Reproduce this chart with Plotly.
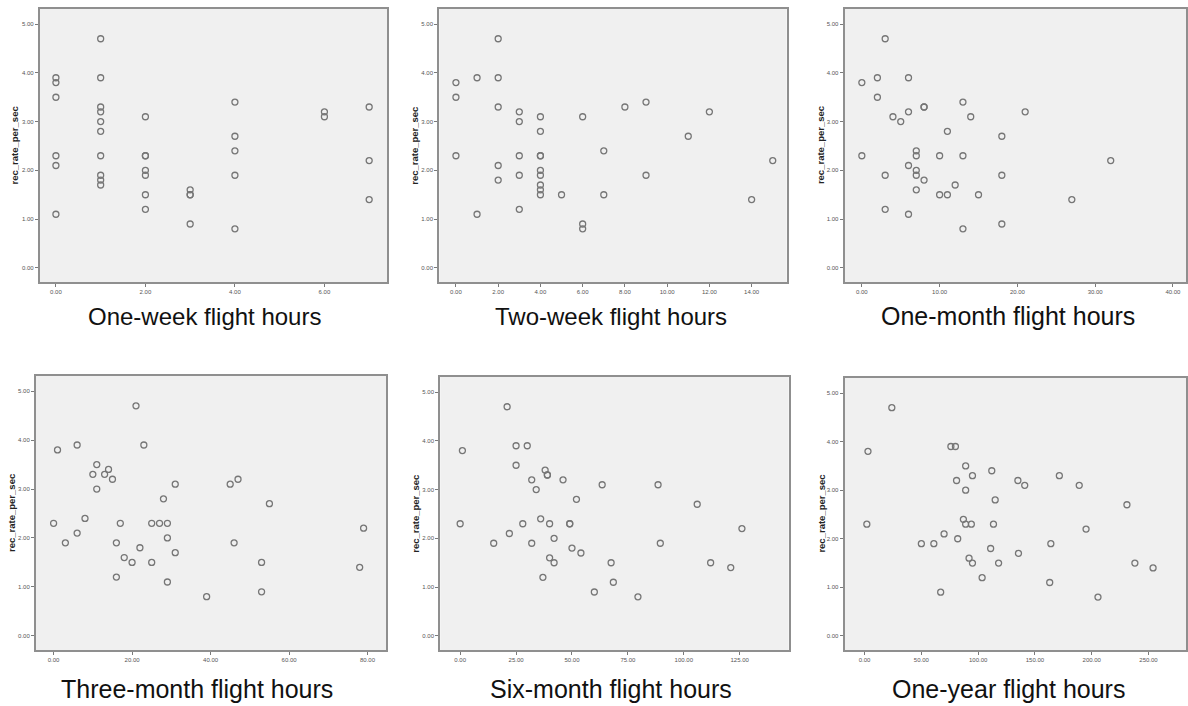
import plotly.graph_objects as go

# ---------------- data ----------------
week_hours = [0, 0, 0, 0, 0, 0,
              1, 1, 1, 1, 1, 1, 1, 1, 1, 1,
              2, 2, 2, 2, 2, 2, 2,
              3, 3, 3, 3,
              4, 4, 4, 4, 4,
              6, 6,
              7, 7, 7]
week_rate = [3.9, 3.8, 3.5, 2.3, 2.1, 1.1,
             4.7, 3.9, 3.3, 3.2, 3.0, 2.8, 2.3, 1.9, 1.8, 1.7,
             3.1, 2.3, 2.3, 2.0, 1.9, 1.5, 1.2,
             1.6, 1.5, 1.5, 0.9,
             3.4, 2.7, 2.4, 1.9, 0.8,
             3.2, 3.1,
             3.3, 2.2, 1.4]

twoweek_hours = [0, 0, 0, 1, 1, 2, 2, 2, 2, 2, 3, 3, 3, 3, 3,
                 4, 4, 4, 4, 4, 4, 4, 4, 4, 5, 6, 6, 6, 7, 7, 8, 9, 9, 11, 12, 14, 15]
twoweek_rate = [3.8, 3.5, 2.3, 3.9, 1.1, 4.7, 3.9, 3.3, 2.1, 1.8, 3.2, 3.0, 2.3, 1.9, 1.2,
                3.1, 2.8, 2.3, 2.3, 2.0, 1.9, 1.7, 1.6, 1.5, 1.5, 3.1, 0.9, 0.8, 2.4, 1.5,
                3.3, 3.4, 1.9, 2.7, 3.2, 1.4, 2.2]

month_hours = [0, 0, 2, 2, 3, 3, 3, 4, 5, 6, 6, 6, 6, 7, 7, 7, 7, 7, 8, 8, 8,
               10, 10, 11, 11, 12, 13, 13, 13, 14, 15, 18, 18, 18, 21, 27, 32]
month_rate = [3.8, 2.3, 3.9, 3.5, 4.7, 1.9, 1.2, 3.1, 3.0, 3.9, 3.2, 2.1, 1.1,
              2.4, 2.3, 2.0, 1.9, 1.6, 3.3, 3.3, 1.8, 2.3, 1.5, 2.8, 1.5, 1.7,
              3.4, 2.3, 0.8, 3.1, 1.5, 2.7, 1.9, 0.9, 3.2, 1.4, 2.2]

threemonth_hours = [0, 1, 3, 6, 6, 8, 10, 11, 11, 13, 14, 15, 16, 16, 17, 18, 20, 21, 22,
                    23, 25, 25, 27, 28, 29, 29, 29, 31, 31, 39, 45, 46, 47, 53, 53, 55, 78, 79]
threemonth_rate = [2.3, 3.8, 1.9, 3.9, 2.1, 2.4, 3.3, 3.5, 3.0, 3.3, 3.4, 3.2, 1.9, 1.2, 2.3,
                   1.6, 1.5, 4.7, 1.8, 3.9, 2.3, 1.5, 2.3, 2.8, 2.3, 2.0, 1.1, 3.1, 1.7, 0.8,
                   3.1, 1.9, 3.2, 1.5, 0.9, 2.7, 1.4, 2.2]

sixmonth_hours = [0, 1, 15, 21, 22, 25, 25, 28, 30, 32, 32, 34, 36, 37, 38, 39, 39, 40, 40,
                  42, 42, 46, 49, 49, 50, 52, 54, 60, 63.5, 67.5, 68.5, 79.5, 88.5, 89.5,
                  106, 112, 121, 126]
sixmonth_rate = [2.3, 3.8, 1.9, 4.7, 2.1, 3.9, 3.5, 2.3, 3.9, 3.2, 1.9, 3.0, 2.4, 1.2, 3.4,
                 3.3, 3.3, 2.3, 1.6, 2.0, 1.5, 3.2, 2.3, 2.3, 1.8, 2.8, 1.7, 0.9, 3.1, 1.5,
                 1.1, 0.8, 3.1, 1.9, 2.7, 1.5, 1.4, 2.2]

year_hours = [2, 3, 24, 50, 61, 67, 70, 76, 80, 81, 82, 87, 89, 89, 89, 94, 92, 95, 95,
              103.5, 111, 112, 113.5, 115, 118, 135, 135.5, 141, 163, 164, 171.5, 189, 195,
              205.5, 231, 238, 254]
year_rate = [2.3, 3.8, 4.7, 1.9, 1.9, 0.9, 2.1, 3.9, 3.9, 3.2, 2.0, 2.4, 3.5, 3.0, 2.3, 2.3,
             1.6, 3.3, 1.5, 1.2, 1.8, 3.4, 2.3, 2.8, 1.5, 3.2, 1.7, 3.1, 1.1, 1.9, 3.3, 3.1,
             2.2, 0.8, 2.7, 1.5, 1.4]

panel_titles = ["One-week flight hours", "Two-week flight hours", "One-month flight hours",
                "Three-month flight hours", "Six-month flight hours", "One-year flight hours"]
x_tick_values = [[0, 2, 4, 6],
                 [0, 2, 4, 6, 8, 10, 12, 14],
                 [0, 10, 20, 30, 40],
                 [0, 20, 40, 60, 80],
                 [0, 25, 50, 75, 100, 125],
                 [0, 50, 100, 150, 200, 250]]
y_tick_values = [0, 1, 2, 3, 4, 5]
y_label = "rec_rate_per_sec"

# ---------------- layout geometry ----------------
W, H = 1188, 706
xs = [week_hours, twoweek_hours, month_hours, threemonth_hours, sixmonth_hours, year_hours]
ys = [week_rate, twoweek_rate, month_rate, threemonth_rate, sixmonth_rate, year_rate]

# page-pixel boxes (left, right, top, bottom)
boxes = [(40, 388, 9, 282), (440, 788, 9, 282), (846, 1188, 9, 282),
         (36, 387, 376, 650), (441, 790, 377, 650), (846, 1188, 378, 650)]
x_ranges = [[-0.357, 7.406], [-0.79, 15.66], [-2.22, 41.68],
            [-4.5, 84.8], [-8.9, 146.9], [-17.6, 283]]
y_range = [-0.29, 5.31]
title_pos = [(205, 316), (612, 316), (1010, 316), (197, 689), (612, 689), (1010, 689)]
title_size = [24, 24, 25, 25, 25, 25]
ylab_x = [15, 415, 822, 11, 416, 822]


def px(x):
    return x / W


def py(y):
    return 1 - y / H


fig = go.Figure()
annotations = []
for i in range(6):
    sfx = "" if i == 0 else str(i + 1)
    fig.add_trace(go.Scatter(
        x=xs[i], y=ys[i], mode="markers",
        xaxis="x" + sfx, yaxis="y" + sfx,
        marker=dict(symbol="circle-open", size=6, color="#767676", line=dict(width=1.3)),
        showlegend=False, hoverinfo="x+y"))
    l, r, t, b = boxes[i]
    axis_common = dict(showgrid=False, zeroline=False, showline=True, mirror=True,
                       linecolor="#8f8f8f", linewidth=2, ticks="outside", ticklen=3,
                       tickcolor="#7a7a7a", tickwidth=1,
                       tickfont=dict(family="Liberation Sans", size=6, color="#555555"),
                       tickformat=".2f")
    fig.update_layout(**{
        "xaxis" + sfx: dict(domain=[max(px(l), 0), min(px(r), 1.0)], range=x_ranges[i],
                            anchor="y" + sfx, tickvals=x_tick_values[i], **axis_common),
        "yaxis" + sfx: dict(domain=[py(b), min(py(t), 1.0)], range=y_range,
                            anchor="x" + sfx, tickvals=y_tick_values, **axis_common),
    })
    tx, ty = title_pos[i]
    annotations.append(dict(text=panel_titles[i], x=px(tx), y=py(ty), xref="paper",
                            yref="paper", showarrow=False, xanchor="center", yanchor="middle",
                            font=dict(family="Liberation Sans", size=title_size[i],
                                      color="#111111")))
    annotations.append(dict(text="<b>" + y_label + "</b>", x=px(ylab_x[i]),
                            y=py((t + b) / 2), xref="paper", yref="paper",
                            showarrow=False, textangle=-90, xanchor="center", yanchor="middle",
                            font=dict(family="Liberation Sans", size=9.5, color="#222222")))

fig.update_layout(width=W, height=H, margin=dict(l=0, r=0, t=0, b=0),
                  paper_bgcolor="white", plot_bgcolor="#f0f0f0",
                  annotations=annotations)

fig.write_html("out.html",
               config={"displayModeBar": False},
               post_script="document.body.style.margin='0px';"
                           "document.body.style.padding='0px';"
                           "document.body.style.overflow='hidden';")
